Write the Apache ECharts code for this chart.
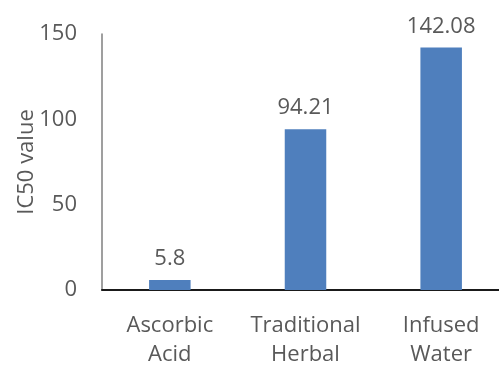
<!DOCTYPE html>
<html>
<head>
<meta charset="utf-8">
<script src="https://cdn.jsdelivr.net/npm/echarts@6/dist/echarts.min.js"></script>
<style>
  html, body { margin: 0; padding: 0; background: #ffffff; }
  #chart { width: 499px; height: 365px; }
</style>
</head>
<body>
<div id="chart"></div>
<script>
// IC50 values per extract
const categories = ['Ascorbic\nAcid', 'Traditional\nHerbal', 'Infused\nWater'];
const ic50Values = [5.8, 94.21, 142.08];
const yTicks = [0, 50, 100, 150];

const FONT = '"Open Sans", "Noto Sans", sans-serif';
const TEXT = '#595959';

const chart = echarts.init(document.getElementById('chart'), null, { renderer: 'canvas' });
chart.setOption({
  animation: false,
  backgroundColor: '#ffffff',
  grid: {
    left: 102, right: -10, top: 34, bottom: 75,
    containLabel: false, outerBoundsMode: 'none'
  },
  xAxis: {
    type: 'category',
    data: categories,
    axisLine: { show: true, lineStyle: { color: '#1a1a1a', width: 2 } },
    axisTick: { show: false },
    axisLabel: {
      interval: 0, margin: 21, color: TEXT, fontFamily: FONT, fontSize: 22, lineHeight: 29
    }
  },
  yAxis: {
    type: 'value',
    min: yTicks[0],
    max: yTicks[yTicks.length - 1],
    interval: yTicks[1] - yTicks[0],
    name: 'IC50 value',
    nameLocation: 'middle',
    nameGap: 64,
    nameMoveOverlap: false,
    nameTextStyle: { color: TEXT, fontFamily: FONT, fontSize: 22 },
    axisLine: { show: true, lineStyle: { color: '#7f7f7f', width: 1.5 } },
    axisTick: { show: false },
    splitLine: { show: false },
    axisLabel: { margin: 25, color: TEXT, fontFamily: FONT, fontSize: 22 }
  },
  series: [{
    type: 'bar',
    data: ic50Values,
    barWidth: '30.6%',
    itemStyle: { color: '#4f7fbd' },
    label: {
      show: true, position: 'top', distance: 10,
      color: TEXT, fontFamily: FONT, fontSize: 22,
      formatter: p => String(p.value)
    }
  }]
});
</script>
</body>
</html>
